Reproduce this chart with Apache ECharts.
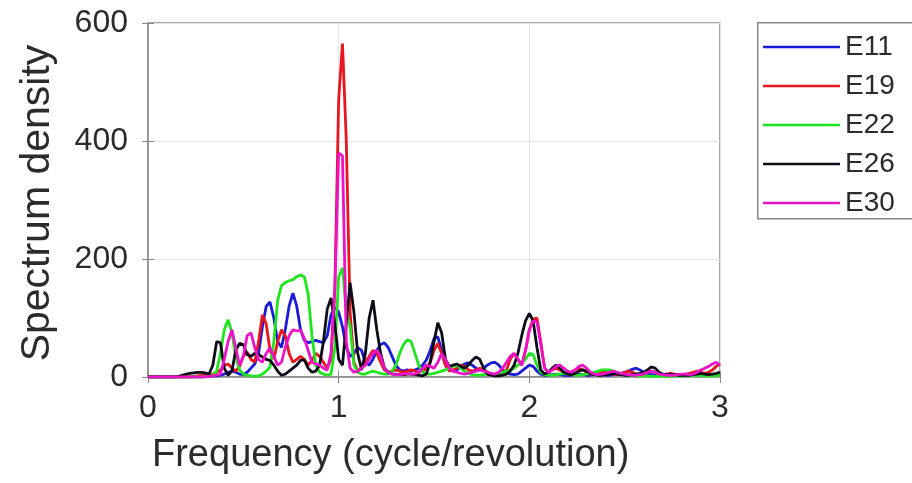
<!DOCTYPE html>
<html>
<head>
<meta charset="utf-8">
<script src="https://cdn.jsdelivr.net/npm/echarts@6/dist/echarts.min.js"></script>
<style>
  html, body { margin: 0; padding: 0; background: #ffffff; }
  #chart { width: 912px; height: 483px; }
</style>
</head>
<body>
<div id="chart"></div>
<script>
// Frequency grid (cycle/revolution), 0 to 3 in steps of 0.02
const freq = Array.from({ length: 151 }, (_, i) => +(i * 0.02).toFixed(2));

const seriesNames = ['E11', 'E19', 'E22', 'E26', 'E30'];

const E11 = [
  0,0,0,0,0,0,0,0,0,0,
  0,0,0,0,0,1,1,2,2,3,
  5,8,10,8,5,4,8,15,22,40,
  85,120,127,100,60,50,80,120,142,120,
  80,62,58,60,62,60,58,70,105,118,
  110,85,50,35,40,50,45,25,20,30,
  45,55,58,50,35,20,12,10,12,10,
  12,15,20,29,45,65,68,45,20,12,
  10,12,18,22,24,20,15,12,15,20,
  24,25,20,12,6,5,4,5,10,15,
  20,18,10,5,3,3,4,5,4,3,
  3,3,4,5,4,3,3,4,5,4,
  3,3,4,5,6,8,10,13,15,12,
  8,5,4,3,3,4,5,4,3,3,
  3,3,4,5,6,5,4,3,3,4,
  5
];

const E19 = [
  0,0,0,0,0,0,0,0,0,0,
  0,0,1,2,3,3,4,5,8,12,
  20,22,15,10,18,35,42,30,25,60,
  105,90,45,30,60,80,70,40,25,30,
  35,30,20,28,40,35,25,15,30,150,
  470,565,400,110,25,10,15,25,35,45,
  40,25,12,8,10,12,10,8,10,12,
  10,8,10,15,25,45,57,40,20,10,
  12,15,20,18,12,10,12,15,12,8,
  5,4,5,8,12,30,40,30,20,45,
  80,98,100,60,15,8,12,15,12,8,
  6,8,12,15,12,8,5,4,5,8,
  10,8,5,4,5,8,10,8,5,4,
  5,8,10,8,5,4,5,6,5,4,
  4,5,6,8,10,8,6,8,12,18,
  22
];

const E22 = [
  0,0,0,0,0,0,0,0,0,0,
  0,0,0,0,0,0,1,3,10,40,
  80,97,75,35,12,5,3,2,1,2,
  5,10,17,60,130,155,160,163,165,170,
  173,170,140,70,20,8,5,3,5,50,
  170,185,110,85,20,8,5,5,8,10,
  8,6,5,5,10,20,40,55,63,60,
  40,20,8,5,5,6,8,10,12,15,
  18,20,15,10,6,4,3,3,4,5,
  5,5,6,8,10,12,15,20,25,30,
  40,38,20,8,4,3,3,4,5,6,
  5,4,3,3,4,5,6,8,10,12,
  12,12,10,8,6,4,3,2,2,2,
  2,2,1,1,1,1,1,1,1,2,
  2,3,3,3,3,3,2,2,2,2,
  3
];

const E26 = [
  0,0,0,0,0,0,0,0,1,3,
  5,6,7,8,8,7,5,20,60,58,
  15,3,10,45,57,55,38,35,40,38,
  34,30,28,20,10,3,5,10,15,20,
  28,29,15,8,10,20,60,115,134,90,
  30,20,90,160,110,40,12,40,100,130,
  80,40,15,8,5,5,4,4,5,5,
  4,3,2,5,25,60,92,75,30,18,
  20,22,18,15,20,28,34,30,15,5,
  3,2,2,3,5,10,20,40,70,95,
  108,95,50,12,5,8,15,20,15,8,
  5,4,6,10,12,10,6,4,3,3,
  4,5,6,5,4,3,3,4,5,6,
  8,12,17,15,8,5,4,5,4,3,
  3,3,3,4,5,6,5,4,5,6,
  8
];

const E30 = [
  0,0,0,0,0,0,0,0,0,0,
  0,0,0,0,0,0,1,2,3,5,
  30,60,80,50,20,35,70,75,50,30,
  25,40,50,35,20,25,50,70,80,78,
  80,65,45,25,22,20,15,12,40,150,
  380,375,60,15,8,10,15,20,30,40,
  45,35,15,8,5,4,4,5,6,5,
  5,8,15,20,18,15,25,40,30,15,
  10,8,6,5,6,8,10,12,10,8,
  6,5,8,15,25,35,40,30,20,45,
  80,95,93,55,15,8,12,18,20,15,
  10,8,12,18,20,15,8,5,4,5,
  6,8,10,8,6,5,4,3,3,4,
  5,8,10,8,5,4,3,3,3,4,
  5,5,4,5,8,12,15,18,22,25,
  20
];

const seriesValues = [E11, E19, E22, E26, E30];
const seriesColors = ['#1a1ad8', '#e8141e', '#1ee61e', '#0d0d1a', '#ec12c8'];

const xTicks = [0, 1, 2, 3];
const yTicks = [0, 200, 400, 600];
const xTitle = 'Frequency (cycle/revolution)';
const yTitle = 'Spectrum density';

const FONT = '"Liberation Sans", Arial, Helvetica, sans-serif';
const TEXT = '#2b2b2b';
const BOX = '#8a8a8a';

const chart = echarts.init(document.getElementById('chart'), null, { renderer: 'canvas' });

const series = seriesNames.map((name, k) => ({
  name,
  type: 'line',
  symbol: 'none',
  smooth: false,
  data: freq.map((f, i) => [f, seriesValues[k][i]]),
  lineStyle: { width: 2.8, color: seriesColors[k] },
  itemStyle: { color: seriesColors[k] },
  z: 2 + k
}));

chart.setOption({
  animation: false,
  backgroundColor: '#ffffff',
  grid: {
    left: 148, right: 192, top: 23, bottom: 106,
    show: true, borderColor: BOX, borderWidth: 1.5, backgroundColor: 'transparent'
  },
  xAxis: [{
    type: 'value',
    min: xTicks[0], max: xTicks[xTicks.length - 1], interval: 1,
    axisLine: { show: true, lineStyle: { color: BOX, width: 1.5 } },
    axisTick: { show: true, inside: true, length: 6, lineStyle: { color: BOX } },
    axisLabel: { fontFamily: FONT, fontSize: 32, color: TEXT, margin: 15 },
    splitLine: { show: true, lineStyle: { color: '#e4e4e4', width: 1 } }
  }, {
    type: 'value', position: 'top',
    min: xTicks[0], max: xTicks[xTicks.length - 1], interval: 1,
    axisLine: { show: false },
    axisTick: { show: true, inside: true, length: 6, lineStyle: { color: BOX } },
    axisLabel: { show: false }, splitLine: { show: false }
  }],
  yAxis: [{
    type: 'value',
    min: yTicks[0], max: yTicks[yTicks.length - 1], interval: 200,
    axisLine: { show: true, lineStyle: { color: BOX, width: 1.5 } },
    axisTick: { show: true, inside: true, length: 6, lineStyle: { color: BOX } },
    axisLabel: { fontFamily: FONT, fontSize: 32, color: TEXT, margin: 20 },
    splitLine: { show: true, lineStyle: { color: '#e4e4e4', width: 1 } }
  }, {
    type: 'value', position: 'right',
    min: yTicks[0], max: yTicks[yTicks.length - 1], interval: 200,
    axisLine: { show: false },
    axisTick: { show: true, inside: true, length: 6, lineStyle: { color: BOX } },
    axisLabel: { show: false }, splitLine: { show: false }
  }],
  legend: {
    data: seriesNames,
    orient: 'vertical',
    left: 763, top: 33,
    itemWidth: 77, itemHeight: 28, itemGap: 11,
    icon: 'path://M0,13 L77,13 L77,15.5 L0,15.5 Z',
    textStyle: { fontFamily: FONT, fontSize: 28, color: TEXT, lineHeight: 28 },
    padding: 0
  },
  graphic: [{
    type: 'rect',
    left: 757, top: 22,
    shape: { width: 200, height: 196 },
    style: { fill: 'transparent', stroke: BOX, lineWidth: 1.5 },
    silent: true, z: -1
  }, {
    type: 'text',
    x: 152, y: 456,
    style: {
      text: xTitle, font: '38px ' + FONT, fill: TEXT,
      textAlign: 'left', textVerticalAlign: 'middle'
    },
    silent: true
  }, {
    type: 'text',
    x: 38, y: 203,
    rotation: Math.PI / 2,
    style: {
      text: yTitle, font: '41px ' + FONT, fill: TEXT,
      textAlign: 'center', textVerticalAlign: 'middle'
    },
    silent: true
  }],
  series
});
</script>
</body>
</html>
